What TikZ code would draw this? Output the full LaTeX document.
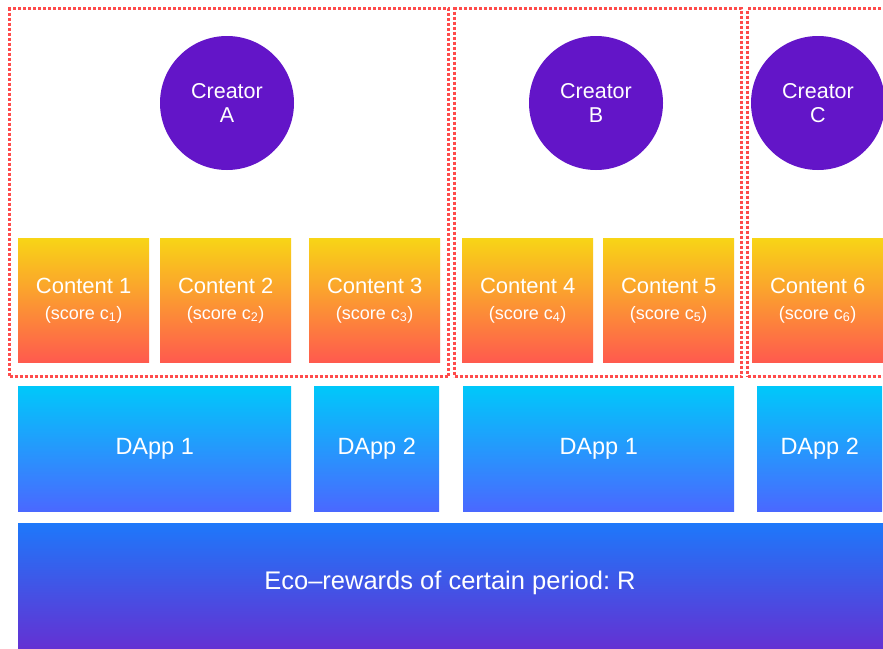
\documentclass[tikz,border=0pt]{standalone}
\usepackage{fontspec}
\setmainfont{Liberation Sans}
\frenchspacing
\definecolor{creatorpurple}{RGB}{99,21,200}
\definecolor{cyellow}{RGB}{248,213,22}
\definecolor{corange}{RGB}{250,165,62}
\definecolor{cred}{RGB}{255,90,78}
\definecolor{dtop}{RGB}{0,200,250}
\definecolor{dbot}{RGB}{74,104,255}
\definecolor{etop}{RGB}{30,120,250}
\definecolor{ebot}{RGB}{101,48,210}
\definecolor{groupred}{RGB}{255,75,75}
\tikzset{
  creator/.style={circle, fill=creatorpurple, minimum size=134pt, inner sep=0pt,
    text=white, align=center, font=\fontsize{21.5}{24}\selectfont},
  contentbox/.style={rectangle, anchor=north west, minimum height=124pt, inner sep=0pt,
    top color=cyellow, middle color=corange, bottom color=cred, draw=none,
    text=white, align=center, font=\fontsize{22}{26}\selectfont},
  dappbox/.style={rectangle, anchor=north west, minimum height=125pt, inner sep=0pt,
    top color=dtop, bottom color=dbot, draw=none,
    text=white, font=\fontsize{23.5}{26}\selectfont},
  ecobox/.style={rectangle, anchor=north west, minimum height=127pt, inner sep=0pt,
    top color=etop, bottom color=ebot, draw=none},
  ecotext/.style={text=white, font=\fontsize{25.5}{28}\selectfont},
  groupbox/.style={rectangle, anchor=north west, draw=groupred, line width=3pt,
    dash pattern=on 3pt off 2pt, inner sep=0pt},
}
\newcommand{\ctext}[1]{Content #1\\{\fontsize{18}{26}\selectfont (score c\textsubscript{#1})}}
\begin{document}
\begin{tikzpicture}[x=1pt,y=-1pt]
\useasboundingbox (0,0) rectangle (883,648);
\clip (0,0) rectangle (883,648);
\fill[white] (0,0) rectangle (883,648);
% group boxes
\node[groupbox, minimum width=439pt, minimum height=368pt] (gA) at (8,7) {};
\node[groupbox, minimum width=287pt, minimum height=368pt] (gB) at (453,7) {};
\node[groupbox, minimum width=200pt, minimum height=368pt] (gC) at (746,7) {};
% creators
\node[creator] (crA) at (227,103) {Creator\\A};
\node[creator] (crB) at (596,103) {Creator\\B};
\node[creator] (crC) at (818,103) {Creator\\C};
% contents
\node[contentbox, minimum width=131pt] (c1) at (18,238) {\ctext{1}};
\node[contentbox, minimum width=131pt] (c2) at (160,238) {\ctext{2}};
\node[contentbox, minimum width=131pt] (c3) at (309,238) {\ctext{3}};
\node[contentbox, minimum width=131pt] (c4) at (462,238) {\ctext{4}};
\node[contentbox, minimum width=131pt] (c5) at (603,238) {\ctext{5}};
\node[contentbox, minimum width=131pt] (c6) at (752,238) {\ctext{6}};
% dapps
\node[dappbox, minimum width=273pt] (d1a) at (18,386) {DApp 1};
\node[dappbox, minimum width=125pt] (d2a) at (314,386) {DApp 2};
\node[dappbox, minimum width=271pt] (d1b) at (463,386) {DApp 1};
\node[dappbox, minimum width=125pt] (d2b) at (757,386) {DApp 2};
% eco rewards
\node[ecobox, minimum width=865pt] (eco) at (18,523) {};
\node[ecotext] (ecolabel) at (450,583) {Eco--rewards of certain period: R};
\end{tikzpicture}
\end{document}
